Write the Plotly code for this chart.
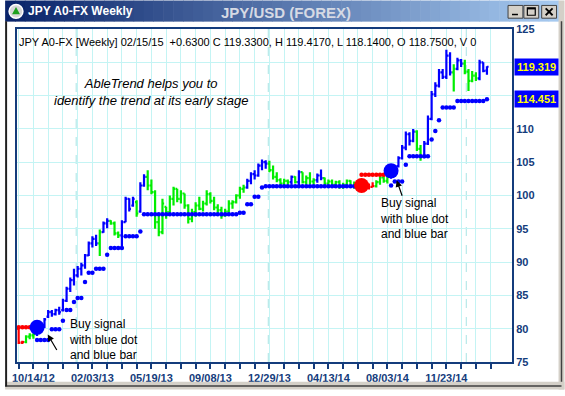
import plotly.graph_objects as go

# ---------------- data ----------------
week_index = list(range(128))

bar_open = [80.0, 77.9, 78.0, 78.8, 79.0, 79.2, 80.3, 80.5, 81.8, 82.5,
            82.2, 82.8, 82.8, 84.2, 86.0, 87.3, 88.0, 89.0, 89.5, 91.0,
            92.8, 93.5, 92.8, 94.5, 95.8, 96.2, 95.8, 94.3, 94.0, 96.0,
            99.5, 98.5, 99.0, 97.6, 101.5, 102.8, 101.5, 100.5, 96.0, 94.5,
            98.3, 97.5, 99.5, 101.0, 99.5, 100.3, 98.5, 96.5, 97.5, 98.5,
            98.0, 98.8, 100.2, 99.2, 98.2, 97.8, 97.0, 97.6, 98.8, 99.0,
            100.0, 101.0, 101.2, 102.2, 103.2, 103.0, 104.5, 105.0, 104.8, 103.8,
            102.8, 102.3, 101.8, 102.2, 102.0, 102.8, 102.0, 103.5, 102.0, 102.6,
            102.1, 102.3, 103.0, 102.6, 101.8, 102.1, 101.6, 102.0, 101.3, 101.6,
            102.2, 101.5, 101.3, 101.0, 101.2, 101.1, 101.3, 101.4, 102.0, 102.7,
            102.2, 102.8, 103.5, 104.4, 105.6, 107.2, 109.2, 108.2, 109.6, 107.0,
            105.8, 107.8, 111.5, 115.2, 116.5, 118.5, 117.8, 121.0, 118.5, 119.0,
            120.3, 119.8, 118.6, 117.2, 118.0, 117.6, 120.0, 118.75]
bar_high = [80.2, 78.2, 79.0, 79.3, 79.3, 80.6, 80.8, 81.6, 82.8, 82.8,
            83.0, 83.3, 84.5, 86.3, 87.7, 89.0, 89.4, 89.9, 91.2, 93.1,
            93.9, 94.1, 94.9, 96.1, 96.6, 96.3, 96.1, 94.6, 96.3, 99.8,
            99.6, 99.8, 99.3, 102.0, 103.2, 103.8, 102.4, 100.8, 97.0, 99.5,
            98.3, 100.0, 101.3, 101.0, 100.8, 100.3, 98.7, 98.0, 99.0, 99.8,
            99.2, 100.8, 100.5, 99.8, 98.7, 98.3, 98.0, 99.3, 99.3, 100.2,
            101.3, 101.6, 102.5, 103.5, 103.8, 104.8, 105.4, 105.3, 105.2, 104.5,
            103.5, 102.6, 102.5, 102.4, 103.0, 102.9, 103.8, 103.5, 103.0, 103.5,
            102.6, 103.3, 103.9, 102.7, 102.4, 102.4, 102.2, 102.3, 101.9, 102.4,
            102.3, 102.1, 101.6, 101.5, 101.6, 101.8, 102.0, 102.3, 102.9, 103.0,
            103.0, 104.0, 104.6, 105.9, 107.6, 109.6, 109.5, 110.0, 109.8, 107.6,
            108.2, 112.0, 115.7, 117.0, 119.0, 119.0, 121.9, 121.5, 119.7, 120.7,
            120.5, 120.4, 119.0, 118.7, 118.5, 120.4, 120.0, 119.417]
bar_low = [77.7, 77.7, 77.8, 78.4, 78.5, 78.9, 79.6, 80.1, 81.6, 81.8,
           82.0, 82.1, 82.6, 84.0, 85.5, 86.5, 87.7, 88.0, 89.0, 90.9,
           92.2, 92.4, 90.9, 94.4, 95.1, 95.6, 94.0, 93.6, 92.2, 96.0,
           97.6, 98.3, 96.8, 97.4, 101.3, 100.8, 100.2, 95.0, 93.9, 94.2,
           96.5, 97.2, 98.5, 99.0, 98.8, 98.0, 95.8, 96.0, 96.8, 97.8,
           97.6, 98.5, 98.8, 97.8, 97.3, 96.5, 96.8, 97.3, 98.0, 98.8,
           99.5, 100.4, 101.0, 101.7, 102.4, 102.8, 103.8, 104.0, 103.5, 102.4,
           102.0, 101.5, 101.5, 101.6, 101.7, 101.8, 101.5, 101.8, 101.6, 101.7,
           101.6, 101.9, 102.3, 101.5, 101.5, 101.2, 101.3, 101.0, 101.0, 101.3,
           101.2, 101.0, 100.8, 100.7, 100.9, 100.9, 101.3, 101.2, 101.6, 101.9,
           101.8, 102.5, 103.2, 104.2, 105.4, 106.8, 107.5, 108.0, 106.7, 105.2,
           105.6, 107.6, 111.3, 114.8, 116.2, 117.5, 117.5, 118.0, 115.6, 118.8,
           119.3, 118.2, 115.7, 117.0, 117.2, 117.3, 118.5, 118.14]
bar_close = [77.9, 78.0, 78.8, 79.0, 79.2, 80.3, 80.5, 81.4, 82.5, 82.2,
             82.8, 82.5, 84.2, 86.0, 87.3, 88.0, 89.0, 89.5, 91.0, 92.8,
             93.5, 92.8, 94.5, 95.8, 96.2, 95.8, 94.3, 94.0, 96.0, 99.5,
             98.0, 99.5, 97.3, 101.5, 102.8, 101.5, 100.5, 96.0, 94.5, 98.8,
             97.5, 99.5, 101.0, 99.5, 100.3, 98.5, 96.5, 97.5, 98.5, 98.0,
             98.8, 100.2, 99.2, 98.2, 97.8, 97.0, 97.6, 98.8, 99.0, 100.0,
             101.0, 101.2, 102.2, 103.2, 103.0, 104.5, 105.0, 104.8, 103.8, 102.8,
             102.3, 101.8, 102.2, 102.0, 102.8, 102.0, 103.5, 102.0, 102.6, 102.1,
             102.3, 103.0, 102.6, 101.8, 102.1, 101.6, 102.0, 101.3, 101.6, 102.2,
             101.5, 101.3, 101.0, 101.2, 101.1, 101.3, 101.4, 102.0, 102.7, 102.2,
             102.8, 103.8, 104.4, 105.6, 107.2, 109.2, 108.2, 109.6, 107.0, 105.8,
             107.8, 111.5, 115.2, 116.5, 118.5, 117.8, 121.0, 118.5, 119.0, 120.3,
             119.8, 118.6, 117.2, 118.0, 117.6, 120.0, 118.70, 119.33]
bar_trend = ["R", "R", "G", "G", "G", "B", "B", "B", "B", "B",
             "B", "B", "B", "B", "B", "B", "B", "B", "B", "B",
             "B", "B", "G", "B", "B", "G", "G", "G", "B", "B",
             "B", "B", "G", "B", "B", "G", "G", "G", "G", "G",
             "G", "G", "G", "G", "G", "G", "G", "G", "G", "G",
             "G", "G", "G", "G", "G", "G", "G", "G", "G", "G",
             "G", "G", "B", "B", "B", "B", "B", "B", "G", "G",
             "G", "G", "G", "G", "B", "G", "B", "G", "G", "G",
             "G", "B", "B", "G", "G", "G", "G", "G", "G", "G",
             "G", "G", "R", "R", "R", "R", "R", "G", "G", "G",
             "G", "B", "B", "B", "B", "B", "B", "B", "G", "G",
             "B", "B", "B", "B", "B", "B", "B", "B", "G", "B",
             "B", "G", "G", "G", "G", "B", "B", "B"]

support_stop = [None, None, None, None, None, 78.3, 78.3, 78.3, 78.3, 79.9,
                79.9, 79.9, 81.2, 82.8, 82.8, 84.0, 84.6, 84.6, 87.0, 88.4,
                88.4, 89.0, 89.0, 89.0, 91.1, 92.1, 92.1, 92.1, 92.1, 93.9,
                93.9, 93.9, 93.9, 94.6, 97.2, 97.2, 97.2, 97.2, 97.2, 97.2,
                97.2, 97.2, 97.2, 97.2, 97.2, 97.2, 97.2, 97.2, 97.2, 97.2,
                97.2, 97.2, 97.2, 97.2, 97.2, 97.2, 97.2, 97.2, 97.2, 97.2,
                97.4, 97.4, 98.7, 98.7, 99.8, 99.8, 101.2, 101.4, 101.4, 101.4,
                101.4, 101.4, 101.4, 101.4, 101.4, 101.4, 101.4, 101.4, 101.4, 101.4,
                101.4, 101.4, 101.4, 101.4, 101.4, 101.4, 101.4, 101.4, 101.4, 101.4,
                101.4, 101.4, None, None, None, None, None, None, None, None,
                None, 101.5, 102.1, 102.1, 102.1, 104.6, 105.9, 105.9, 105.9, 105.9,
                105.9, 105.9, 108.4, 109.7, 111.3, 113.2, 113.2, 113.2, 113.2, 114.2,
                114.2, 114.2, 114.2, 114.2, 114.2, 114.2, 114.2, 114.451]
resist_stop = [80.2, 80.2, 80.2, 80.2, 80.2] + [None] * 88 + \
              [103.1, 103.1, 103.1, 103.1, 103.1, 103.1, 103.1] + [None] * 28

buy_signal_week = [5, 101]
buy_signal_price = [80.2, 103.7]
sell_signal_week = [93]
sell_signal_price = [101.5]

tick_weeks = list(range(0, 129, 4))
label_weeks = [4, 20, 36, 52, 68, 84, 100, 116]
label_dates = ["10/14/12", "02/03/13", "05/19/13", "09/08/13",
               "12/29/13", "04/13/14", "08/03/14", "11/23/14"]
year_break_weeks = [15.6, 67.7, 121.4]
y_ticks = [75, 80, 85, 90, 95, 100, 105, 110, 115, 120, 125]
y_hidden_labels = [115, 120]   # covered by the price boxes in the original

last_date = "02/15/15"
price_label = 119.319
stop_label = 114.451

# ---------------- styling ----------------
NAVY = "#143C7C"
GRID = "#C4F4F4"
FONT = "Arial, Liberation Sans, sans-serif"
COLORS = {"B": "#0000FF", "G": "#00EE00", "R": "#FF0000"}

L, R, T, B = 12, 53, 29, 28
W, H = 565, 396
PW, PH = W - L - R, H - T - B


def px_x(px):
    return (px - L) / PW


def px_y(py):
    return (H - B - py) / PH


fig = go.Figure()

for code in ["G", "R", "B"]:
    idx = [i for i in week_index if bar_trend[i] == code]
    fig.add_trace(go.Ohlc(
        x=[week_index[i] for i in idx],
        open=[bar_open[i] for i in idx],
        high=[bar_high[i] for i in idx],
        low=[bar_low[i] for i in idx],
        close=[bar_close[i] for i in idx],
        increasing=dict(line=dict(color=COLORS[code], width=2.2)),
        decreasing=dict(line=dict(color=COLORS[code], width=2.2)),
        tickwidth=0.45, hoverinfo="skip", showlegend=False))

fig.add_trace(go.Scatter(x=week_index, y=support_stop, mode="markers",
                         marker=dict(color="#0000FF", size=4.5, symbol="circle"),
                         hoverinfo="skip", showlegend=False))
fig.add_trace(go.Scatter(x=week_index, y=resist_stop, mode="markers",
                         marker=dict(color="#FF0000", size=4.5, symbol="circle"),
                         hoverinfo="skip", showlegend=False))
fig.add_trace(go.Scatter(x=sell_signal_week, y=sell_signal_price, mode="markers",
                         marker=dict(color="#FF0000", size=15),
                         hoverinfo="skip", showlegend=False))
fig.add_trace(go.Scatter(x=buy_signal_week, y=buy_signal_price, mode="markers",
                         marker=dict(color="#0000FF", size=15),
                         hoverinfo="skip", showlegend=False))

shapes = []
# year separators
for yb in year_break_weeks:
    shapes.append(dict(type="line", xref="x", yref="paper", x0=yb, x1=yb, y0=0, y1=1,
                       line=dict(color="#A8E4E4", width=1, dash="dash"), layer="below"))

# title bar gradient
c0 = (10, 36, 106)
c1 = (166, 202, 240)
n = 56
bar_right = 559
for k in range(n):
    t = k / (n - 1)
    col = "rgb(%d,%d,%d)" % tuple(int(c0[j] + (c1[j] - c0[j]) * t) for j in range(3))
    xa = bar_right * k / n
    xb = bar_right * (k + 1) / n + 0.6
    shapes.append(dict(type="rect", xref="paper", yref="paper",
                       x0=px_x(xa), x1=px_x(xb), y0=px_y(21.5), y1=px_y(0),
                       fillcolor=col, line=dict(width=0), layer="above"))
# window frame
shapes.append(dict(type="rect", xref="paper", yref="paper", x0=px_x(559), x1=px_x(565),
                   y0=px_y(396), y1=px_y(0), fillcolor="#D4D0C8", line=dict(width=0), layer="above"))
shapes.append(dict(type="line", xref="paper", yref="paper", x0=px_x(562), x1=px_x(562),
                   y0=px_y(393), y1=px_y(21), line=dict(color="#404040", width=1.5), layer="above"))
shapes.append(dict(type="rect", xref="paper", yref="paper", x0=px_x(0), x1=px_x(565),
                   y0=px_y(396), y1=px_y(388), fillcolor="#D4D0C8", line=dict(width=0), layer="above"))
shapes.append(dict(type="line", xref="paper", yref="paper", x0=px_x(0), x1=px_x(562),
                   y0=px_y(392.5), y1=px_y(392.5), line=dict(color="#404040", width=1.5), layer="above"))
shapes.append(dict(type="rect", xref="paper", yref="paper", x0=px_x(0), x1=px_x(2),
                   y0=px_y(393), y1=px_y(21), fillcolor="#202020", line=dict(width=0), layer="above"))
# icon
shapes.append(dict(type="circle", xref="paper", yref="paper", x0=px_x(4), x1=px_x(18),
                   y0=px_y(18), y1=px_y(4), fillcolor="#D8D8D8", line=dict(color="white", width=1.5),
                   layer="above"))
shapes.append(dict(type="path", xref="paper", yref="paper",
                   path="M %f %f L %f %f L %f %f Z" % (px_x(11), px_y(6.5), px_x(15), px_y(14),
                                                       px_x(7), px_y(14)),
                   fillcolor="#1EA01E", line=dict(width=0), layer="above"))
# window buttons
for bx0, bx1 in [(508, 523), (524, 539), (542, 557)]:
    shapes.append(dict(type="rect", xref="paper", yref="paper", x0=px_x(bx0), x1=px_x(bx1),
                       y0=px_y(18), y1=px_y(5), fillcolor="#D4D0C8",
                       line=dict(color="#404040", width=1), layer="above"))
shapes.append(dict(type="rect", xref="paper", yref="paper", x0=px_x(512), x1=px_x(518),
                   y0=px_y(15), y1=px_y(13.5), fillcolor="black", line=dict(width=0), layer="above"))
shapes.append(dict(type="rect", xref="paper", yref="paper", x0=px_x(527.5), x1=px_x(535.5),
                   y0=px_y(15), y1=px_y(7.5), fillcolor="rgba(0,0,0,0)",
                   line=dict(color="black", width=1.2), layer="above"))
shapes.append(dict(type="line", xref="paper", yref="paper", x0=px_x(527.5), x1=px_x(535.5),
                   y0=px_y(8.3), y1=px_y(8.3), line=dict(color="black", width=1.5), layer="above"))
shapes.append(dict(type="line", xref="paper", yref="paper", x0=px_x(546), x1=px_x(553),
                   y0=px_y(8), y1=px_y(15), line=dict(color="black", width=1.8), layer="above"))
shapes.append(dict(type="line", xref="paper", yref="paper", x0=px_x(546), x1=px_x(553),
                   y0=px_y(15), y1=px_y(8), line=dict(color="black", width=1.8), layer="above"))

chg = bar_close[-1] - bar_close[-2]
header = "JPY A0-FX [Weekly] %s  %+.4f C %.4f, H %.4f, L %.4f, O %.4f, V 0" % (
    last_date, chg, bar_close[-1], bar_high[-1], bar_low[-1], bar_open[-1])

annotations = [
    dict(xref="paper", yref="paper", x=px_x(21), y=px_y(11), xanchor="left", yanchor="middle",
         text="<b>JPY A0-FX Weekly</b>", showarrow=False,
         font=dict(family=FONT, size=12, color="white")),
    dict(xref="paper", yref="paper", x=px_x(284), y=px_y(12.5), xanchor="center", yanchor="middle",
         text="<b>JPY/USD (FOREX)</b>", showarrow=False,
         font=dict(family=FONT, size=15, color="#D6DAE4")),
    dict(xref="paper", yref="paper", x=px_x(12), y=px_y(42), xanchor="left", yanchor="middle",
         text=header, showarrow=False, font=dict(family=FONT, size=11, color="black")),
    dict(xref="paper", yref="paper", x=px_x(147), y=px_y(93), xanchor="center", yanchor="middle",
         text="<i>AbleTrend helps you to<br>identify the trend at its early stage</i>",
         showarrow=False, align="center", font=dict(family=FONT, size=13, color="black")),
    dict(xref="paper", yref="paper", x=px_x(62), y=px_y(345.5), xanchor="left", yanchor="middle",
         text="Buy signal<br>with blue dot<br>and blue bar", showarrow=False, align="left",
         font=dict(family=FONT, size=12, color="black")),
    dict(xref="paper", yref="paper", x=px_x(377), y=px_y(221.5), xanchor="left", yanchor="middle",
         text="Buy signal<br>with blue dot<br>and blue bar", showarrow=False, align="left",
         font=dict(family=FONT, size=12, color="black")),
    dict(xref="paper", yref="paper", x=px_x(43), y=px_y(340), text="", showarrow=True,
         ax=10, ay=17, arrowhead=2, arrowsize=1.1, arrowwidth=1.2, arrowcolor="black"),
    dict(xref="paper", yref="paper", x=px_x(395.5), y=px_y(183), text="", showarrow=True,
         ax=6, ay=17, arrowhead=2, arrowsize=1.1, arrowwidth=1.2, arrowcolor="black"),
    dict(xref="paper", yref="y", x=1, y=price_label, xanchor="left", yanchor="middle", xshift=2,
         text="<b>%.3f</b>" % price_label, showarrow=False, bgcolor="#0000FF", borderpad=2,
         font=dict(family=FONT, size=11, color="#FFFF00")),
    dict(xref="paper", yref="y", x=1, y=stop_label, xanchor="left", yanchor="middle", xshift=2,
         text="<b>%.3f</b>" % stop_label, showarrow=False, bgcolor="#0000FF", borderpad=2,
         font=dict(family=FONT, size=11, color="#FFFF00")),
]

tick_text = []
for tw in tick_weeks:
    if tw in label_weeks:
        tick_text.append("<b>%s</b>" % label_dates[label_weeks.index(tw)])
    else:
        tick_text.append("")

y_text = ["" if v in y_hidden_labels else "<b>%d</b>" % v for v in y_ticks]

fig.update_layout(
    width=W, height=H, margin=dict(l=L, r=R, t=T, b=B, pad=0),
    paper_bgcolor="white", plot_bgcolor="white", showlegend=False,
    xaxis=dict(range=[-0.45, 133.8], tickmode="array", tickvals=tick_weeks, ticktext=tick_text,
               ticks="outside", ticklen=5, tickwidth=1.5, tickcolor=NAVY,
               showgrid=True, gridcolor=GRID, gridwidth=1, zeroline=False,
               showline=True, mirror=True, linecolor=NAVY, linewidth=2,
               rangeslider=dict(visible=False),
               tickfont=dict(family=FONT, size=11, color=NAVY)),
    yaxis=dict(side="right", range=[75, 125], tickmode="array", tickvals=y_ticks,
               ticktext=y_text,
               ticks="", showgrid=True, gridcolor=GRID, gridwidth=1, zeroline=False,
               showline=True, mirror=True, linecolor=NAVY, linewidth=2,
               tickfont=dict(family=FONT, size=11, color=NAVY)),
    shapes=shapes, annotations=annotations,
)

fig.write_html("out.html", config={"displayModeBar": False},
               post_script="document.body.style.margin='0px';document.body.style.overflow='hidden';")
